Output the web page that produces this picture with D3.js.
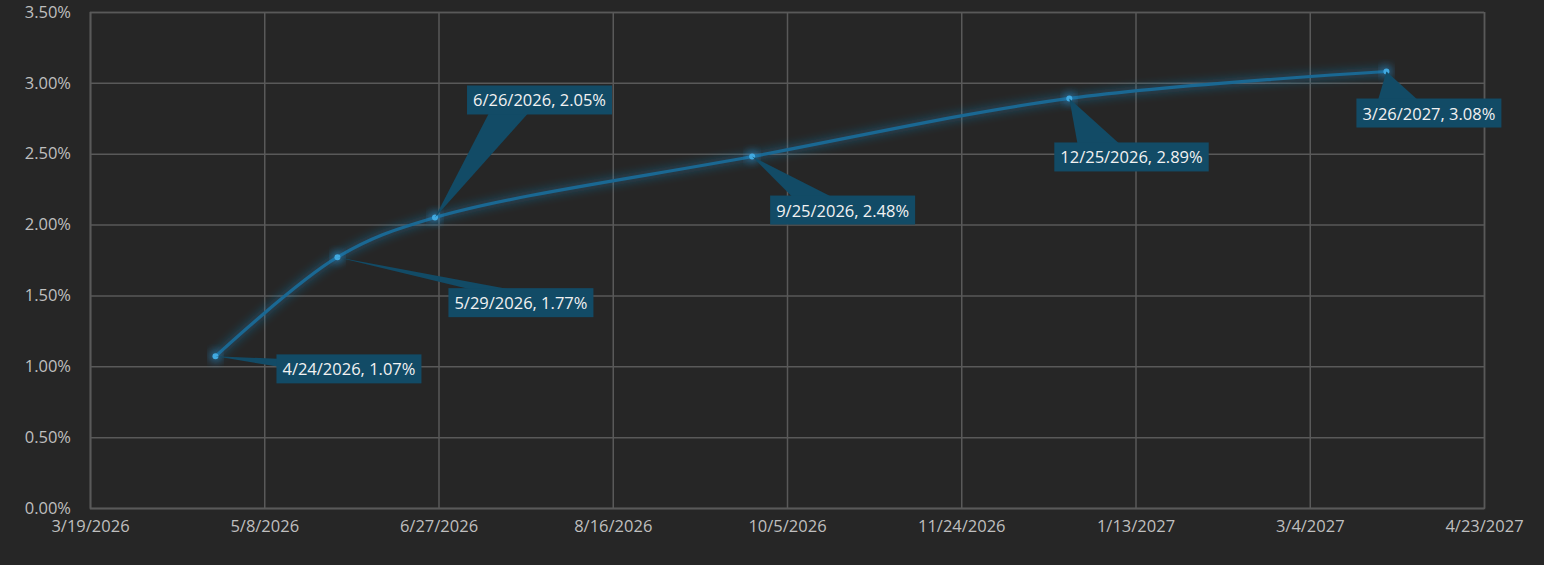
<!DOCTYPE html>
<html>
<head>
<meta charset="utf-8">
<script src="https://cdn.jsdelivr.net/npm/d3@7"></script>
<style>
  html, body { margin: 0; padding: 0; background: #262626; }
  svg { display: block; }
  text { font-family: 'Open Sans', 'Liberation Sans', Arial, sans-serif; }
</style>
</head>
<body>
<div id="chart"></div>
<script>
var w = 1544;
var h = 565;
var margin = {top: 12, right: 60, bottom: 57, left: 90};

// data
var dates = ["2026-04-24", "2026-05-29", "2026-06-26", "2026-09-25", "2026-12-25", "2027-03-26"];
var rates = [0.0107, 0.0177, 0.0205, 0.0248, 0.0289, 0.0308];
var dateLabels = ["4/24/2026", "5/29/2026", "6/26/2026", "9/25/2026", "12/25/2026", "3/26/2027"];
var xTicks = ["2026-03-19", "2026-05-08", "2026-06-27", "2026-08-16", "2026-10-05", "2026-11-24", "2027-01-13", "2027-03-04", "2027-04-23"];
var yTicks = [0, 0.005, 0.01, 0.015, 0.02, 0.025, 0.03, 0.035];

// label box offsets from their point
var labelOffsets = [[61, -2], [111, 31], [32, -132], [18, 39], [-15, 44], [-30, 27]];

var parse = d3.utcParse("%Y-%m-%d");
var fmtX = function(d) { return (d.getUTCMonth() + 1) + "/" + d.getUTCDate() + "/" + d.getUTCFullYear(); };
var fmtY = d3.format(".2%");

var points = dates.map(function(d, i) { return {date: parse(d), value: rates[i], label: dateLabels[i] + ", " + fmtY(rates[i])}; });

var x = d3.scaleUtc()
  .domain([parse(xTicks[0]), parse(xTicks[xTicks.length - 1])])
  .range([margin.left, w - margin.right]);
var y = d3.scaleLinear()
  .domain([0, 0.035])
  .range([h - margin.bottom, margin.top]);

var svg = d3.select("#chart").append("svg")
  .attr("width", w)
  .attr("height", h);

var defs = svg.append("defs");
defs.append("filter").attr("id", "glow")
  .attr("x", "-20%").attr("y", "-50%").attr("width", "140%").attr("height", "200%")
  .append("feGaussianBlur").attr("stdDeviation", 4);

// gridlines
svg.append("g")
  .attr("class", "grid-y")
  .attr("transform", "translate(" + margin.left + ",0)")
  .call(d3.axisLeft(y).tickValues(yTicks).tickSize(-(w - margin.left - margin.right)).tickFormat(fmtY).tickPadding(19))
  .call(function(g) {
    g.attr("font-family", null);
    g.select(".domain").attr("stroke", "#595959").attr("stroke-width", 1.5);
    g.selectAll(".tick line").attr("stroke", "#595959").attr("stroke-width", 1.5);
    g.selectAll(".tick text").attr("fill", "#bfbfbf").style("font-size", "16.5px");
  });

svg.append("g")
  .attr("class", "grid-x")
  .attr("transform", "translate(0," + (h - margin.bottom) + ")")
  .call(d3.axisBottom(x).tickValues(xTicks.map(parse)).tickSize(-(h - margin.top - margin.bottom)).tickFormat(fmtX).tickPadding(12))
  .call(function(g) {
    g.attr("font-family", null);
    g.select(".domain").attr("stroke", "#595959").attr("stroke-width", 1.5);
    g.selectAll(".tick line").attr("stroke", "#595959").attr("stroke-width", 1.5);
    g.selectAll(".tick text").attr("fill", "#bfbfbf").style("font-size", "16.5px");
  });

// line
var line = d3.line()
  .x(function(d) { return x(d.date); })
  .y(function(d) { return y(d.value); })
  .curve(d3.curveCatmullRom.alpha(0.5));

svg.append("path")
  .datum(points)
  .attr("d", line)
  .attr("fill", "none")
  .attr("stroke", "#1f7fb5")
  .attr("stroke-width", 9)
  .attr("stroke-opacity", 0.35)
  .attr("filter", "url(#glow)");

svg.append("path")
  .datum(points)
  .attr("d", line)
  .attr("fill", "none")
  .attr("stroke", "#1a6893")
  .attr("stroke-width", 3.2)
  .attr("stroke-linecap", "round");

svg.append("g").selectAll("circle.glow")
  .data(points)
  .join("circle")
  .attr("cx", function(d) { return x(d.date); })
  .attr("cy", function(d) { return y(d.value); })
  .attr("r", 6)
  .attr("fill", "#2a8fcf")
  .attr("opacity", 0.6)
  .attr("filter", "url(#glow)");

svg.append("g").selectAll("circle.dot")
  .data(points)
  .join("circle")
  .attr("cx", function(d) { return x(d.date); })
  .attr("cy", function(d) { return y(d.value); })
  .attr("r", 3)
  .attr("fill", "#41a9e0");

// callout labels
var labels = svg.append("g").attr("class", "labels");
points.forEach(function(d, i) {
  var px = x(d.date), py = y(d.value);
  var g = labels.append("g");
  var text = g.append("text")
    .attr("fill", "#f2f2f2")
    .style("font-size", "16.5px")
    .text(d.label);
  var tw = text.node().getComputedTextLength();
  var bw = tw + 12, bh = 29;
  var bx = px + labelOffsets[i][0], by = py + labelOffsets[i][1];
  text.attr("x", bx + 6).attr("y", by + 21);

  var wedge;
  if (py >= by - 4 && py <= by + bh && px < bx) {
    wedge = [[px, py], [bx + 1, by + bh * 0.15], [bx + 1, by + bh * 0.42]];
  } else if (py < by) {
    wedge = [[px, py], [bx + bw * 0.15, by + 1], [bx + bw * 0.42, by + 1]];
  } else {
    wedge = [[px, py], [bx + bw * 0.15, by + bh - 1], [bx + bw * 0.42, by + bh - 1]];
  }
  g.insert("path", "text")
    .attr("d", "M" + wedge.join("L") + "Z")
    .attr("fill", "#124b66");
  g.insert("rect", "text")
    .attr("x", bx).attr("y", by)
    .attr("width", bw).attr("height", bh)
    .attr("fill", "#124b66");
});
</script>
</body>
</html>
